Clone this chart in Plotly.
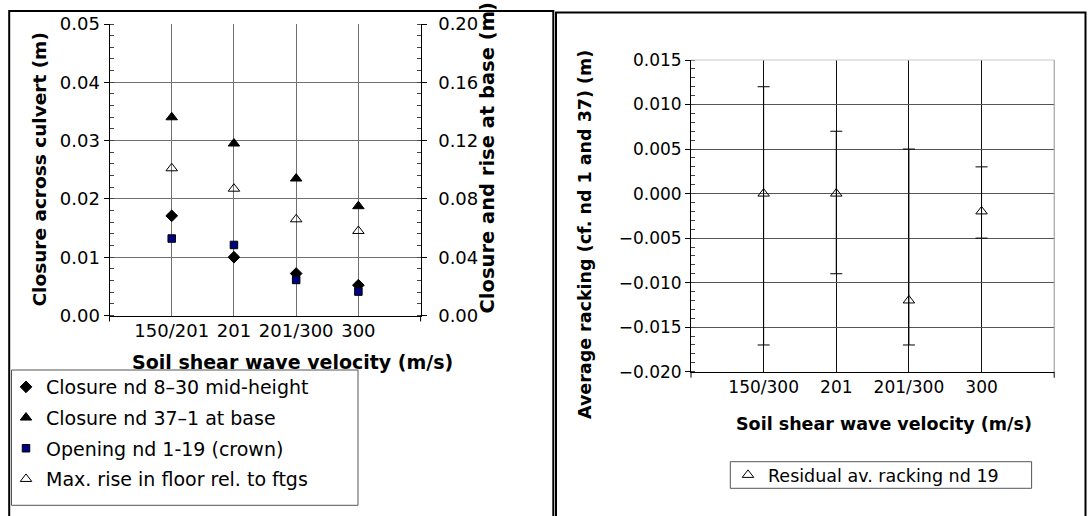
import plotly.graph_objects as go

W, H = 1091, 516
FONT = "DejaVu Sans"

# ---------------- data : left chart ----------------
left_categories = ["150/201", "201", "201/300", "300"]
closure_mid_height = [0.0171, 0.0100, 0.0072, 0.0052]   # left axis (m)
opening_crown = [0.0132, 0.0121, 0.0061, 0.0041]        # left axis (m)
closure_base = [0.136, 0.118, 0.094, 0.075]             # right axis (m)
max_floor_rise = [0.101, 0.087, 0.066, 0.058]           # right axis (m)
left_y_ticks = [0.00, 0.01, 0.02, 0.03, 0.04, 0.05]
right_y_ticks = [0.00, 0.04, 0.08, 0.12, 0.16, 0.20]

# ---------------- data : right chart ----------------
right_categories = ["150/300", "201", "201/300", "300"]
residual_racking = [0.000, 0.000, -0.012, -0.002]
racking_max = [0.012, 0.007, 0.005, 0.003]
racking_min = [-0.017, -0.009, -0.017, -0.005]
rack_y_ticks = [-0.020, -0.015, -0.010, -0.005, 0.000, 0.005, 0.010, 0.015]


def px(x):
    return x / W


def py(y):
    return 1 - y / H


xl = list(range(1, len(left_categories) + 1))
xr = list(range(1, len(right_categories) + 1))

fig = go.Figure()

fig.add_trace(go.Scatter(
    x=xl, y=closure_mid_height, mode="markers", name="Closure nd 8\u201330 mid-height",
    marker=dict(symbol="diamond", size=9, color="black", line=dict(color="black", width=1)),
    xaxis="x", yaxis="y", legend="legend", legendgroup="a"))
fig.add_trace(go.Scatter(
    x=xl, y=closure_base, mode="markers", name="Closure nd 37\u20131 at base",
    marker=dict(symbol="triangle-up", size=10, color="black", line=dict(color="black", width=1)),
    xaxis="x", yaxis="y2", legend="legend", legendgroup="b"))
fig.add_trace(go.Scatter(
    x=xl, y=opening_crown, mode="markers", name="Opening nd 1-19 (crown)",
    marker=dict(symbol="square", size=7.5, color="#000080", line=dict(color="black", width=1)),
    xaxis="x", yaxis="y", legend="legend", legendgroup="c"))
fig.add_trace(go.Scatter(
    x=xl, y=max_floor_rise, mode="markers", name="Max. rise in floor rel. to ftgs",
    marker=dict(symbol="triangle-up-open", size=10, color="black", line=dict(color="black", width=1)),
    xaxis="x", yaxis="y2", legend="legend", legendgroup="d"))

err_plus = [mx - v for mx, v in zip(racking_max, residual_racking)]
err_minus = [v - mn for mn, v in zip(racking_min, residual_racking)]
fig.add_trace(go.Scatter(
    x=xr, y=residual_racking, mode="markers", name="Residual av. racking nd 19",
    marker=dict(symbol="triangle-up-open", size=10, color="black", line=dict(color="black", width=1)),
    error_y=dict(type="data", symmetric=False, array=err_plus, arrayminus=err_minus,
                 color="black", thickness=1, width=6),
    xaxis="x3", yaxis="y3", legend="legend2"))

tickfont_l = dict(family=FONT, size=18, color="black")
tickfont_r = dict(family=FONT, size=17, color="black")

fig.update_layout(
    width=W, height=H,
    margin=dict(l=0, r=0, t=0, b=0),
    paper_bgcolor="white", plot_bgcolor="white",
    font=dict(family=FONT, color="black"),
    xaxis=dict(domain=[px(109.5), px(420.6)], range=[0, 5], tickvals=xl, ticktext=left_categories,
               showgrid=True, gridcolor="#707070", gridwidth=1, zeroline=False,
               showline=True, linecolor="black", linewidth=1, ticks="", tickfont=tickfont_l,
               anchor="y", automargin=False, ticklabelstandoff=-1),
    yaxis=dict(domain=[py(315.5), py(24)], range=[0, 0.05], tickvals=left_y_ticks, tickformat=".2f",
               showgrid=True, gridcolor="#707070", gridwidth=1, zeroline=False,
               showline=True, linecolor="black", linewidth=1,
               ticks="outside", ticklen=5, tickcolor="black", tickfont=tickfont_l,
               minor=dict(dtick=0.002, ticks="inside", ticklen=4, tickcolor="#444", showgrid=False),
               anchor="x", automargin=False),
    yaxis2=dict(overlaying="y", side="right", anchor="x", range=[0, 0.2], tickvals=right_y_ticks,
                tickformat=".2f", showgrid=False, zeroline=False,
                showline=True, linecolor="black", linewidth=1,
                ticks="outside", ticklen=5, tickcolor="black", tickfont=tickfont_l,
                minor=dict(dtick=0.008, ticks="inside", ticklen=4, tickcolor="#444", showgrid=False),
                automargin=False, ticklabelstandoff=8),
    xaxis3=dict(domain=[px(691), px(1054.2)], range=[0, 5], tickvals=xr, ticktext=right_categories,
                showgrid=True, gridcolor="#111111", gridwidth=1, zeroline=False,
                showline=True, linecolor="black", linewidth=1, ticks="", tickfont=tickfont_r,
                anchor="y3", automargin=False, ticklabelstandoff=0),
    yaxis3=dict(domain=[py(371.7), py(60)], range=[-0.020, 0.015], tickvals=rack_y_ticks,
                tickformat=".3f", showgrid=True, gridcolor="#555555", gridwidth=1, zeroline=False,
                showline=True, linecolor="black", linewidth=1,
                ticks="outside", ticklen=5, tickcolor="black", tickfont=tickfont_r,
                minor=dict(dtick=0.001, ticks="inside", ticklen=4, tickcolor="#444", showgrid=False),
                anchor="x3", automargin=False),
    legend=dict(x=px(6), y=py(368), xanchor="left", yanchor="top", bgcolor="rgba(0,0,0,0)",
                borderwidth=0, font=dict(family=FONT, size=19, color="black"),
                traceorder="grouped", tracegroupgap=3, itemwidth=30),
    legend2=dict(x=px(728), y=py(457), xanchor="left", yanchor="top", bgcolor="rgba(0,0,0,0)",
                 borderwidth=0, font=dict(family=FONT, size=17.5, color="black"), itemwidth=30),
    showlegend=True,
)


# axis titles as annotations
def title(text, x, y, size, angle=0):
    fig.add_annotation(text="<b>" + text + "</b>", x=px(x), y=py(y), xref="paper", yref="paper",
                       xanchor="center", yanchor="middle", showarrow=False, textangle=angle,
                       font=dict(family=FONT, size=size, color="black"))


title("Soil shear wave velocity (m/s)", 292.5, 361.5, 19)
title("Closure across culvert (m)", 39, 169.5, 18.5, -90)
title("Closure and rise at base (m)", 487, 158.5, 19.5, -90)
title("Soil shear wave velocity (m/s)", 884.4, 424, 17.5)
title("Average racking (cf. nd 1 and 37) (m)", 585, 234, 17.5, -90)

shapes = []
# outer frames
shapes.append(dict(type="path", xref="paper", yref="paper",
                   path=f"M {px(9.2)} {py(520)} L {px(9.2)} {py(11)} L {px(553.3)} {py(11)} L {px(553.3)} {py(520)}",
                   line=dict(color="black", width=2)))
shapes.append(dict(type="path", xref="paper", yref="paper",
                   path=f"M {px(556)} {py(520)} L {px(556)} {py(12.5)} L {px(1085.5)} {py(12.5)} L {px(1085.5)} {py(520)}",
                   line=dict(color="black", width=2)))
# legend boxes
shapes.append(dict(type="rect", xref="paper", yref="paper", x0=px(11.5), x1=px(358), y0=py(505.3), y1=py(370),
                   line=dict(color="#555555", width=1)))
shapes.append(dict(type="rect", xref="paper", yref="paper", x0=px(730.3), x1=px(1031.6), y0=py(488.3), y1=py(461.7),
                   line=dict(color="#555555", width=1)))
# right chart top / right border
shapes.append(dict(type="line", xref="x3 domain", yref="y3 domain", x0=0, x1=1, y0=1, y1=1,
                   line=dict(color="#c8c8c8", width=1), layer="above"))
shapes.append(dict(type="line", xref="x3 domain", yref="y3 domain", x0=1, x1=1, y0=0, y1=1,
                   line=dict(color="#909090", width=1), layer="above"))
# end tick marks on x axes
for xa, ya, hpx in (("x", "y", 291.5), ("x3", "y3", 311.7)):
    for xv in (0, 1):
        shapes.append(dict(type="line", xref=xa + " domain", yref=ya + " domain", x0=xv, x1=xv,
                           y0=0, y1=-6 / hpx, line=dict(color="black", width=1)))
fig.update_layout(shapes=shapes)

fig.write_html("out.html")
